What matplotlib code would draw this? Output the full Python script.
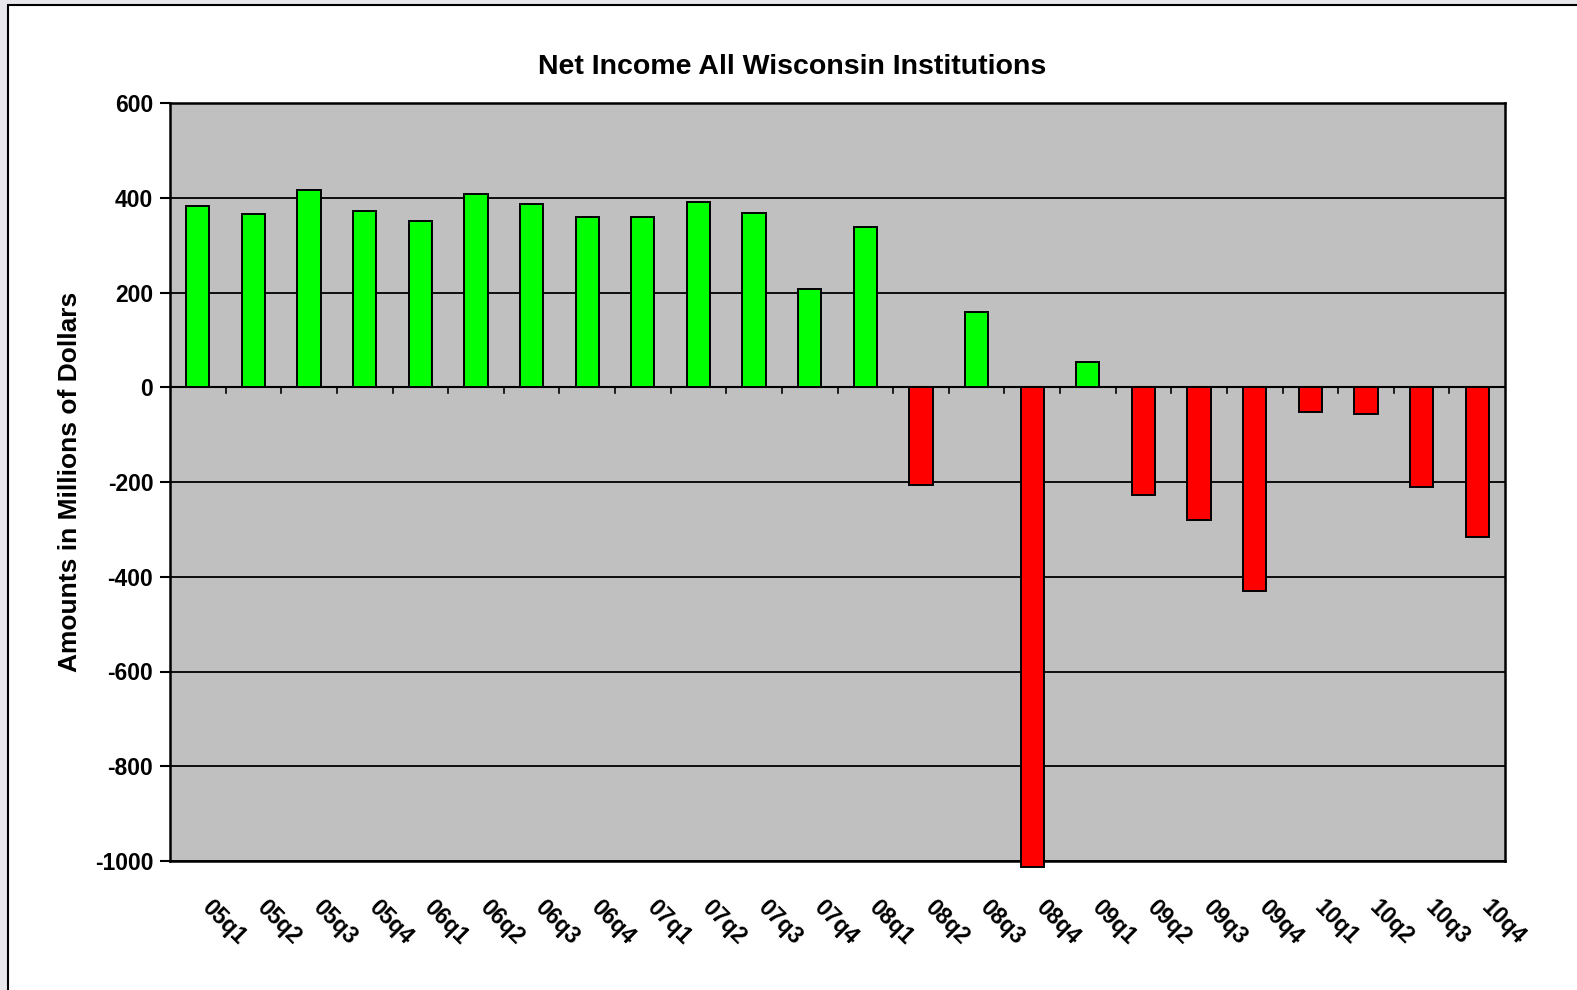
import matplotlib.pyplot as plt
from matplotlib.patches import Rectangle

plt.rcParams['font.family'] = ['Liberation Sans', 'DejaVu Sans']

# quarters and net income (millions of dollars)
quarters = ['05q1', '05q2', '05q3', '05q4', '06q1', '06q2', '06q3', '06q4',
            '07q1', '07q2', '07q3', '07q4', '08q1', '08q2', '08q3', '08q4',
            '09q1', '09q2', '09q3', '09q4', '10q1', '10q2', '10q3', '10q4']
net_income = [383, 366, 417, 372, 351, 408, 387, 360,
              360, 391, 368, 207, 338, -207, 158, -1013,
              54, -228, -281, -430, -52, -56, -211, -317]
y_ticks = [600, 400, 200, 0, -200, -400, -600, -800, -1000]

W, H = 1577, 990
fig = plt.figure(figsize=(W / 100, H / 100), dpi=100, facecolor='#e8e8ec')

# white chart area with black frame
fig.patches.append(Rectangle((8 / W, -0.05), 1.2, 1 - 5 / H + 0.05,
                             transform=fig.transFigure, facecolor='white',
                             edgecolor='black', linewidth=1.5, zorder=-5))

ax = fig.add_axes([170 / W, 1 - 861 / H, (1505 - 170) / W, (861 - 103) / H])
ax.set_zorder(2)
ax.set_facecolor('#c0c0c0')

x = list(range(len(quarters)))
colors = ['#00ff00' if v >= 0 else '#ff0000' for v in net_income]
ax.bar(x, net_income, width=0.42, color=colors, edgecolor='black',
       linewidth=1.4, zorder=3, clip_on=False)

ax.set_xlim(-0.5, len(quarters) - 0.5)
ax.set_ylim(-1000, 600)
ax.set_yticks(y_ticks)
ax.set_yticklabels([str(v) for v in y_ticks], fontsize=16.5,
                   fontweight='bold')
ax.tick_params(axis='y', direction='out', length=7, width=1.5, pad=5)
ax.yaxis.grid(True, color='black', linewidth=1.3, zorder=1)
ax.set_axisbelow(True)

# category axis crosses at zero, tick marks between categories
ax.axhline(0, color='black', linewidth=1.5, zorder=2)
for b in range(1, len(quarters)):
    ax.plot([b - 0.5, b - 0.5], [0, -12], color='black', linewidth=1.2,
            zorder=2)

ax.set_xticks(x)
ax.set_xticklabels([])
ax.tick_params(axis='x', length=0)
for i, q in enumerate(quarters):
    ax.annotate(q, xy=(i, -1000), xytext=(11, -25), textcoords='offset points',
                rotation=-45, ha='left', va='top', rotation_mode='anchor',
                fontsize=16.5, fontweight='bold', annotation_clip=False)

for s in ax.spines.values():
    s.set_linewidth(1.8)
    s.set_color('black')

ax.set_ylabel('Amounts in Millions of Dollars', fontsize=19,
              fontweight='bold', labelpad=9)
fig.text(0.502, 1 - 67 / H, 'Net Income All Wisconsin Institutions',
         fontsize=20.5, fontweight='bold', ha='center', va='center')

fig.savefig('out.png', dpi=100, facecolor=fig.get_facecolor())
